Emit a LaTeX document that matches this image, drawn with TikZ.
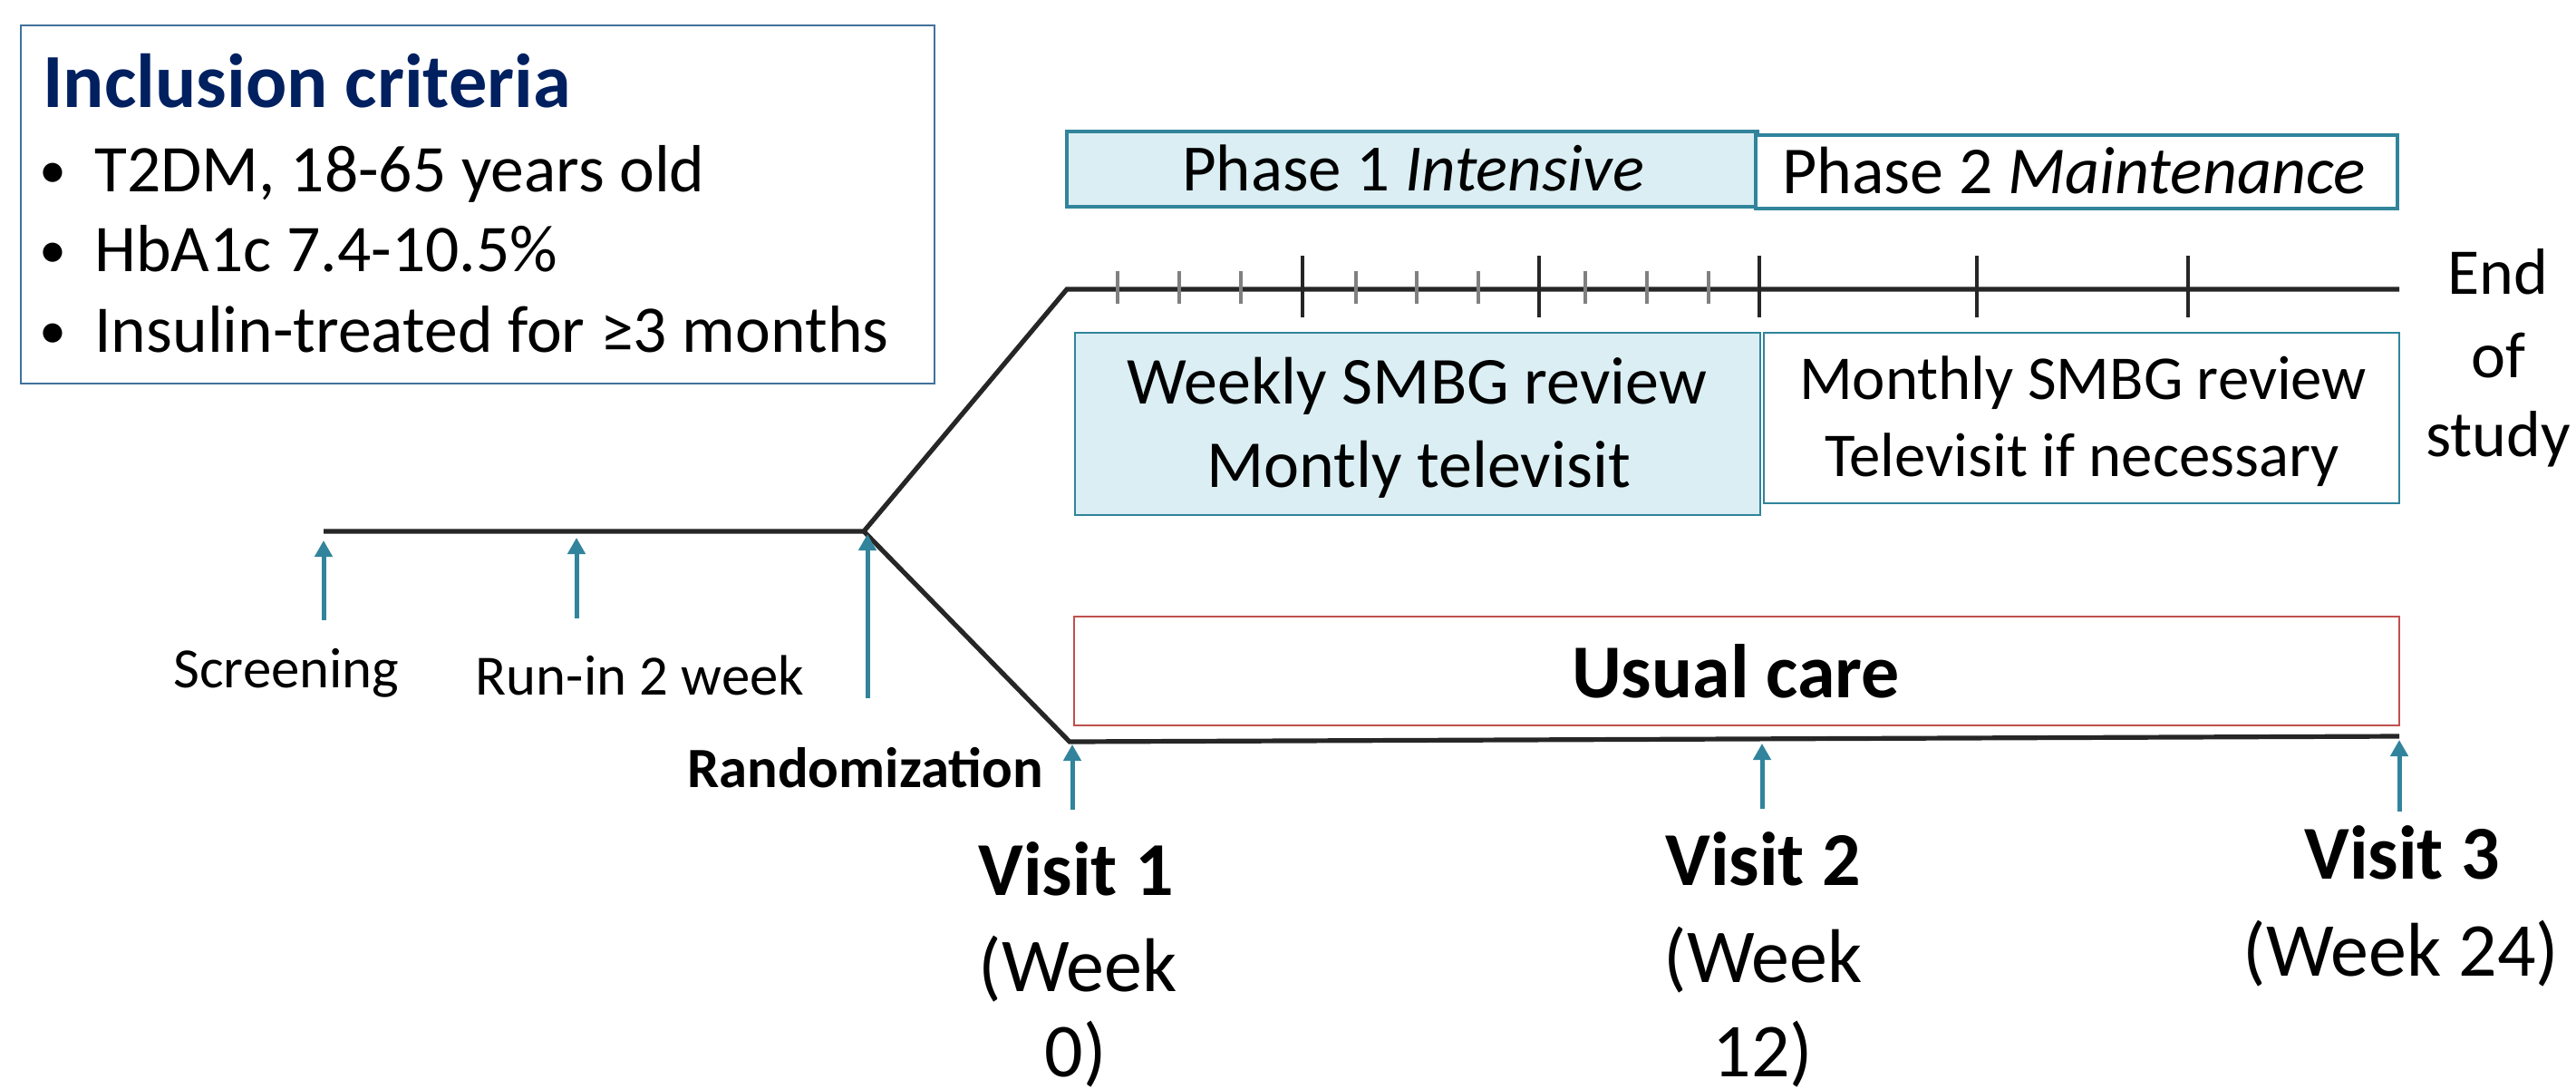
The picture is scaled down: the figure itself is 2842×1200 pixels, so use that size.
\documentclass[tikz,border=0pt]{standalone}
\usepackage{fontspec}
\setmainfont{Carlito}
\usetikzlibrary{arrows.meta}
\definecolor{teal1}{HTML}{31849B}
\definecolor{lblue}{HTML}{DAEEF3}
\definecolor{navy}{HTML}{002060}
\definecolor{redb}{HTML}{C0504D}
\definecolor{ink}{HTML}{262626}
\definecolor{tickgray}{HTML}{808080}
\definecolor{inclb}{HTML}{41719C}
\begin{document}
\begin{tikzpicture}[x=0.5pt,y=-0.5pt,
  tl/.style={draw=ink, line width=2.6pt, line join=miter},
  arr/.style={draw=teal1, line width=2.5pt, -{Triangle[width=9.5pt,length=9pt]}},
  minortick/.style={draw=tickgray, line width=2.4pt},
  majortick/.style={draw=ink, line width=2.4pt},
  boxshape/.style={inner sep=0pt, outer sep=0pt},
  txt/.style={inner sep=0pt, anchor=base, font=\fontsize{#1}{#1}\selectfont},
  btxt/.style={inner sep=0pt, anchor=base, font=\fontsize{#1}{#1}\selectfont\bfseries},
]
\useasboundingbox (0,0) rectangle (2842,1200);

% ---------- inclusion criteria ----------
\node[boxshape, draw=inclb, line width=1.1pt, minimum width=504pt, minimum height=197.5pt] (incl) at (527,225.5) {};
\node[btxt=42.2, anchor=base west, text=navy] (title) at (47,118) {Inclusion criteria};
\node[txt=30] (b1) at (58,207) {•};
\node[txt=30] (b2) at (58,295) {•};
\node[txt=30] (b3) at (58,384) {•};
\node[txt=36.8, anchor=base west] (c1) at (104,211) {T2DM, 18-65 years old};
\node[txt=36.8, anchor=base west] (c2) at (104,299) {HbA1c 7.4-10.5\%};
\node[txt=36.8, anchor=base west] (c3) at (104,388) {Insulin-treated for ≥3 months};

% ---------- phase boxes ----------
\node[boxshape, draw=teal1, fill=lblue, line width=2.2pt, minimum width=381pt, minimum height=41.5pt] (ph1) at (1558,186.5) {};
\node[boxshape, draw=teal1, fill=white, line width=2.2pt, minimum width=354pt, minimum height=40.5pt] (ph2) at (2291,189.5) {};
\node[txt=36.5] (ph1t) at (1559,210) {Phase 1 \textit{Intensive}};
\node[txt=37] (ph2t) at (2288,213) {Phase 2 \textit{Maintenance}};

% ---------- review boxes ----------
\node[boxshape, draw=teal1, fill=lblue, line width=1pt, minimum width=378pt, minimum height=100.5pt] (wk) at (1564,467.5) {};
\node[boxshape, draw=teal1, fill=white, line width=1pt, minimum width=350.5pt, minimum height=94pt] (mo) at (2296.5,461) {};
\node[txt=37] (wk1) at (1563,445) {Weekly SMBG review};
\node[txt=37] (wk2) at (1565,537) {Montly televisit};
\node[txt=34.4] (mo1) at (2298,440) {Monthly SMBG review};
\node[txt=34.4] (mo2) at (2297,525) {Televisit if necessary};

% ---------- usual care ----------
\node[boxshape, draw=redb, fill=white, line width=1pt, minimum width=731pt, minimum height=60pt] (uc) at (1916,740) {};
\node[btxt=42] (uct) at (1915,769) {Usual care};

% ---------- timelines ----------
\coordinate (s0) at (357,586);
\coordinate (rj) at (953,586);
\coordinate (up) at (1177,319);
\coordinate (uend) at (2647,319);
\coordinate (lo) at (1180,818);
\coordinate (lend) at (2647,812);
\draw[tl] (s0) -- (rj) -- (up) -- (uend);
\draw[tl] (rj) -- (lo) -- (lend);

\foreach \x in {1233,1301,1369,1496,1563,1631,1749,1817,1885}
  \draw[minortick] (\x,299) -- (\x,335);
\foreach \x in {1437,1698,1941,2181,2414}
  \draw[majortick] (\x,282) -- (\x,350);

% End of study
\node[txt=36] (e1) at (2756,324) {End};
\node[txt=36] (e2) at (2756,416) {of};
\node[txt=36] (e3) at (2756,503) {study};

% ---------- arrows ----------
\coordinate (a1b) at (357,684);  \coordinate (a1t) at (357,596);
\coordinate (a2b) at (636,682);  \coordinate (a2t) at (636,593);
\coordinate (a3b) at (957,770);  \coordinate (a3t) at (957,589);
\coordinate (v1b) at (1183,893); \coordinate (v1t) at (1183,821);
\coordinate (v2b) at (1944,892); \coordinate (v2t) at (1944,820);
\coordinate (v3b) at (2647,895); \coordinate (v3t) at (2647,816);
\draw[arr] (a1b) -- (a1t);
\draw[arr] (a2b) -- (a2t);
\draw[arr] (a3b) -- (a3t);
\draw[arr] (v1b) -- (v1t);
\draw[arr] (v2b) -- (v2t);
\draw[arr] (v3b) -- (v3t);

\node[txt=31.4] (scr) at (316,758) {Screening};
\node[txt=31.4] (run) at (706,766) {Run-in 2 week};
\node[btxt=31.4] (rnd) at (954.5,868) {Randomization};

% ---------- visits ----------
\node[btxt=42] (v1a) at (1187,987) {Visit 1};
\node[txt=42] (v1c) at (1189,1093) {(Week};
\node[txt=42] (v1d) at (1187,1187) {0)};
\node[btxt=42] (v2a) at (1945,976) {Visit 2};
\node[txt=42] (v2c) at (1945,1083) {(Week};
\node[txt=42] (v2d) at (1945,1187) {12)};
\node[btxt=42] (v3a) at (2650,969) {Visit 3};
\node[txt=42] (v3c) at (2649,1076) {(Week 24)};
\end{tikzpicture}
\end{document}
